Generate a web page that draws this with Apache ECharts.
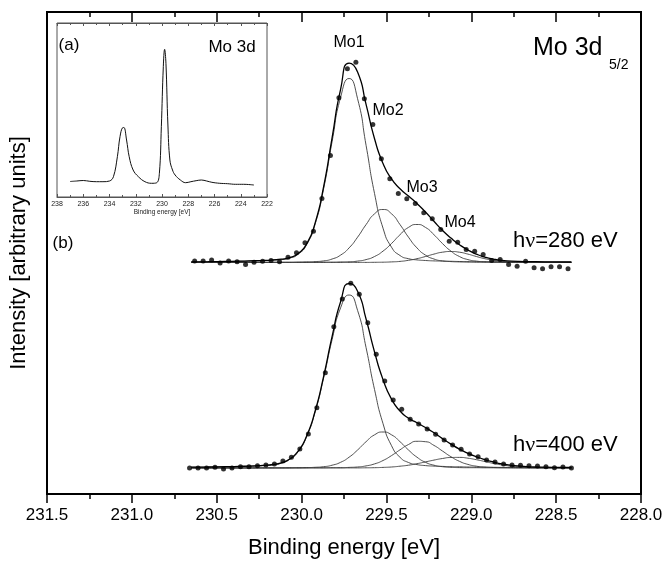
<!DOCTYPE html>
<html>
<head>
<meta charset="utf-8">
<script src="https://cdn.jsdelivr.net/npm/echarts@6/dist/echarts.min.js"></script>
<style>
  html, body { margin: 0; padding: 0; background: #fff; }
  #main { width: 667px; height: 568px; }
</style>
</head>
<body>
<div id="main"></div>
<script>
const energyGrid = [230.65, 230.55, 230.45, 230.37, 230.27, 230.22, 230.17, 230.12, 230.07, 230.02,
  229.97, 229.92, 229.87, 229.82, 229.77, 229.72, 229.67, 229.62, 229.57, 229.52,
  229.47, 229.42, 229.37, 229.32, 229.27, 229.22, 229.17, 229.12, 229.07, 229.02,
  228.97, 228.92, 228.87, 228.82, 228.72, 228.62, 228.52, 228.41];

// hv = 280 eV : fitted components and envelope (arb. units above baseline)
const mo1Top = [0.5, 0.7, 0.9, 1.1, 1.5, 1.8, 2.2, 2.9, 4.4, 8.3, 17.9, 38.5, 73.9, 121.1, 165.2, 184, 163.8, 117.2, 68.9, 34.3, 15.3, 7.0, 3.8, 2.6, 2.0, 1.6, 1.4, 1.2, 1.0, 0.9, 0.8, 0.7, 0.6, 0.5, 0.4, 0.4, 0.3, 0.3];
const mo2Top = [0.1, 0.1, 0.1, 0.2, 0.2, 0.2, 0.3, 0.3, 0.3, 0.4, 0.6, 0.9, 1.6, 3.5, 7.4, 14.6, 25.3, 37.9, 48.7, 53, 48.7, 37.9, 25.3, 14.6, 7.4, 3.5, 1.6, 0.9, 0.6, 0.4, 0.3, 0.3, 0.3, 0.2, 0.2, 0.1, 0.1, 0.1];
const mo3Top = [0.1, 0.1, 0.1, 0.1, 0.1, 0.1, 0.1, 0.1, 0.1, 0.2, 0.2, 0.2, 0.3, 0.3, 0.5, 0.7, 1.4, 2.9, 6.0, 11.4, 19, 27.8, 35.1, 38, 35.1, 27.8, 19, 11.4, 6.0, 2.9, 1.4, 0.7, 0.5, 0.3, 0.2, 0.2, 0.1, 0.1];
const mo4Top = [0, 0, 0, 0, 0, 0, 0, 0, 0, 0, 0, 0, 0.1, 0.1, 0.1, 0.1, 0.1, 0.1, 0.2, 0.3, 0.6, 1.1, 2.2, 3.8, 6.0, 8.4, 10.3, 11, 10.3, 8.4, 6.0, 3.8, 2.2, 1.1, 0.3, 0.1, 0.1, 0];
const envTop = [0.7, 0.8, 1.1, 1.3, 1.8, 2.1, 2.6, 3.3, 4.9, 8.9, 18.7, 39.6, 75.8, 124.9, 173.1, 199.4, 190.6, 158.1, 123.8, 99.0, 83.6, 73.8, 66.4, 59.0, 50.5, 41.2, 32.2, 24.4, 17.8, 12.5, 8.4, 5.4, 3.4, 2.2, 1.1, 0.8, 0.6, 0.5];

// hv = 280 eV : measured points
const dotEnergyTop = [230.63, 230.58, 230.53, 230.48, 230.43, 230.38, 230.33, 230.28, 230.23, 230.18,
  230.13, 230.08, 230.03, 229.98, 229.93, 229.88, 229.83, 229.78, 229.73, 229.68,
  229.63, 229.58, 229.53, 229.48, 229.43, 229.38, 229.33, 229.28, 229.23, 229.18,
  229.13, 229.08, 229.03, 228.98, 228.93, 228.88, 228.83, 228.78, 228.73, 228.68,
  228.63, 228.58, 228.53, 228.48, 228.43];
const dotTop = [1.5, 1.5, 2.5, -0.5, 1.5, 0.7, -2, 0.3, 1.3, 2, 0.7, 5.3, 9.7, 19.7, 31.3, 64, 107, 164.7, 193.7, 200.3,
  163.7, 138, 103.7, 83.7, 69, 63.7, 59, 49.7, 43.7, 33, 21.3, 20.3, 13, 11.3, 8, 2, 3, -2, -3.7, 1.3,
  -5.3, -6.3, -4.3, -4.3, -6.3];

// hv = 400 eV : fitted components and envelope
const mo1Bot = [0.7, 0.9, 1.1, 1.4, 1.9, 2.4, 3.2, 4.8, 8.6, 16.4, 31.5, 56.1, 90.1, 128.5, 160.2, 173, 157.6, 120.4, 78.4, 44.3, 22.3, 10.7, 5.5, 3.4, 2.4, 1.9, 1.6, 1.3, 1.2, 1.0, 0.9, 0.8, 0.7, 0.6, 0.5, 0.4, 0.4, 0.3];
const mo2Bot = [0.1, 0.1, 0.1, 0.1, 0.1, 0.2, 0.2, 0.2, 0.3, 0.3, 0.4, 0.7, 1.3, 2.8, 5.7, 10.8, 18, 26.3, 33.2, 36, 33.2, 26.3, 18, 10.8, 5.7, 2.8, 1.3, 0.7, 0.4, 0.3, 0.3, 0.2, 0.2, 0.2, 0.1, 0.1, 0.1, 0.1];
const mo3Bot = [0, 0, 0.1, 0.1, 0.1, 0.1, 0.1, 0.1, 0.1, 0.1, 0.2, 0.2, 0.2, 0.3, 0.3, 0.6, 1.0, 2.1, 4.1, 7.5, 12.4, 18.2, 23.5, 26.7, 26.3, 22.6, 17.0, 11.3, 6.7, 3.6, 1.8, 0.9, 0.5, 0.3, 0.2, 0.1, 0.1, 0.1];
const mo4Bot = [0, 0, 0, 0, 0, 0, 0, 0, 0, 0.1, 0.1, 0.1, 0.1, 0.1, 0.1, 0.1, 0.1, 0.2, 0.3, 0.6, 1.0, 1.8, 2.8, 4.3, 6.1, 7.9, 9.5, 10.5, 10.6, 9.8, 8.3, 6.5, 4.6, 3.1, 1.1, 0.4, 0.2, 0.1];
const envBot = [0.8, 1.0, 1.3, 1.6, 2.2, 2.7, 3.5, 5.2, 9.0, 16.9, 32.1, 57.0, 91.7, 131.6, 166.3, 184.5, 176.8, 149.0, 116.0, 88.4, 68.9, 57.0, 49.8, 45.2, 40.5, 35.2, 29.4, 23.9, 18.9, 14.7, 11.2, 8.3, 6.0, 4.2, 2.0, 1.0, 0.7, 0.5];

// hv = 400 eV : measured points
const dotEnergyBot = [230.66, 230.61, 230.56, 230.51, 230.46, 230.41, 230.36, 230.31, 230.26, 230.21,
  230.16, 230.11, 230.06, 230.01, 229.96, 229.91, 229.86, 229.81, 229.76, 229.71,
  229.66, 229.61, 229.56, 229.51, 229.46, 229.41, 229.36, 229.31, 229.26, 229.21,
  229.16, 229.11, 229.06, 229.01, 228.96, 228.91, 228.86, 228.81, 228.76, 228.71,
  228.66, 228.61, 228.56, 228.51, 228.46, 228.41];
const dotBot = [0, 0, 0, 0.7, -1, 0, 1.3, 1.3, 2.3, 3, 4, 7, 10.7, 19, 34, 60.3, 95.3, 141.3, 169, 184.7,
  173.7, 145.3, 113.7, 87, 68, 58.7, 48.7, 44, 39, 33.7, 28, 23, 18.7, 14, 11.3, 8, 6, 4, 3, 2.7,
  2.3, 2, 1.3, 0.3, 1, 0];

// vertical offsets of the two spectra (stacked plot)
const offsetTop = 231.5;
const offsetBot = 26;

// inset (a): Mo 3d survey
const insetEnergy = [237.0, 236.5, 236.0, 235.5, 235.0, 234.5, 234.0, 233.7, 233.4, 233.2, 233.0, 232.9, 232.7, 232.5, 232.2,
  231.8, 231.3, 230.8, 230.4, 230.2, 230.05, 229.9, 229.8, 229.7, 229.55, 229.4, 229.2, 229.0, 228.6, 228.2,
  227.8, 227.4, 227.0, 226.6, 226.2, 225.6, 225.0, 224.4, 223.8, 223.0];
const insetIntensity = [15.5, 16, 16.5, 15.7, 15.3, 15.3, 16, 20.3, 40.3, 60.3, 69.3, 69.5, 57, 40.3, 27,
  20.3, 15.3, 13.7, 14.3, 23.7, 70.3, 130.3, 147.7, 133.7, 72, 37, 27, 22, 17, 14.3,
  15.3, 16.3, 17, 16, 14.7, 13.7, 13.3, 12.7, 12.7, 12];

const FONT = "'Liberation Sans', Arial, sans-serif";

function pairs(xs, ys, off) {
  return xs.map((x, i) => [x, ys[i] + off]);
}

function component(name, ys, off) {
  return {
    name: name, type: "line", xAxisIndex: 0, yAxisIndex: 0,
    data: pairs(energyGrid, ys, off),
    symbol: "none", smooth: 0.6, silent: true,
    lineStyle: { color: "#3a3a3a", width: 0.9 },
  };
}
function envelope(ys, off) {
  return {
    type: "line", xAxisIndex: 0, yAxisIndex: 0,
    data: pairs(energyGrid, ys, off),
    symbol: "none", smooth: 0.6, silent: true,
    lineStyle: { color: "#000", width: 1.3 }, z: 3,
  };
}
function dots(xs, ys, off) {
  return {
    type: "scatter", xAxisIndex: 0, yAxisIndex: 0,
    data: pairs(xs, ys, off),
    symbol: "circle", symbolSize: 5, silent: true,
    itemStyle: { color: "#000" }, z: 4,
  };
}

function label(text, x, y, size, align) {
  return {
    type: "text", x: x, y: y, silent: true, z: 100,
    style: {
      text: text, fill: "#000", fontSize: size, fontFamily: FONT,
      align: align || "center", textAlign: align || "center",
      verticalAlign: "middle", textVerticalAlign: "middle",
    },
  };
}
function hnu(value, x, y) {
  return {
    type: "text", x: x, y: y, silent: true, z: 100,
    style: {
      text: "{a|h}{b|ν}{a|=" + value + " eV}",
      align: "left", textAlign: "left",
      verticalAlign: "middle", textVerticalAlign: "middle",
      rich: {
        a: { fontSize: 22, fontFamily: FONT, fill: "#000" },
        b: { fontSize: 22, fontFamily: "'Liberation Serif', serif", fill: "#000" },
      },
    },
  };
}

const chart = echarts.init(document.getElementById("main"));

const tickLine = { color: "#000", width: 1.5 };

chart.setOption({
  animation: false,
  backgroundColor: "#fff",
  grid: [
    { left: 45, top: 12, right: 26, bottom: 74, show: true, borderColor: "#000", borderWidth: 2, backgroundColor: "transparent" },
    { left: 57, top: 23, width: 210, height: 174, show: true, borderColor: "#555", borderWidth: 1, backgroundColor: "#fff", z: 10 },
  ],
  xAxis: [
    {
      gridIndex: 0, type: "value", position: "bottom", min: 228, max: 231.5, interval: 0.5, inverse: true,
      axisLine: { show: true, onZero: false, lineStyle: { color: "#000", width: 2 } },
      axisTick: { show: true, inside: false, length: 9, lineStyle: tickLine },
      minorTick: { show: true, splitNumber: 2, length: 5, lineStyle: tickLine },
      splitLine: { show: false },
      axisLabel: { color: "#000", fontSize: 17, fontFamily: FONT, margin: 13, formatter: (v) => v.toFixed(1) },
      name: "Binding energy [eV]", nameLocation: "middle", nameGap: 43,
      nameTextStyle: { color: "#000", fontSize: 22, fontFamily: FONT },
    },
    {
      gridIndex: 0, type: "value", position: "top", min: 228, max: 231.5, interval: 0.5, inverse: true,
      axisLine: { show: true, onZero: false, lineStyle: { color: "#000", width: 2 } },
      axisTick: { show: true, inside: true, length: 10, lineStyle: tickLine },
      minorTick: { show: true, splitNumber: 2, length: 5, lineStyle: tickLine },
      splitLine: { show: false },
      axisLabel: { show: false },
    },
    {
      gridIndex: 1, type: "value", position: "bottom", min: 222, max: 238, interval: 2, inverse: true,
      axisLine: { show: true, onZero: false, lineStyle: { color: "#555", width: 1 } },
      axisTick: { show: true, inside: true, length: 3, lineStyle: { color: "#555", width: 1 } },
      minorTick: { show: true, splitNumber: 2, length: 2, lineStyle: { color: "#555", width: 1 } },
      splitLine: { show: false },
      axisLabel: { color: "#222", fontSize: 7, fontFamily: FONT, margin: 4 },
      name: "Binding energy [eV]", nameLocation: "middle", nameGap: 12,
      nameTextStyle: { color: "#222", fontSize: 6.5, fontFamily: FONT },
      z: 11,
    },
    {
      gridIndex: 1, type: "value", position: "top", min: 222, max: 238, interval: 2, inverse: true,
      axisLine: { show: true, onZero: false, lineStyle: { color: "#555", width: 1 } },
      axisTick: { show: true, inside: true, length: 3, lineStyle: { color: "#555", width: 1 } },
      minorTick: { show: true, splitNumber: 2, length: 2, lineStyle: { color: "#555", width: 1 } },
      splitLine: { show: false },
      axisLabel: { show: false },
      z: 11,
    },
  ],
  yAxis: [
    {
      gridIndex: 0, type: "value", min: 0, max: 482,
      axisLine: { show: false }, axisTick: { show: false }, axisLabel: { show: false }, splitLine: { show: false },
      name: "Intensity [arbitrary units]", nameLocation: "middle", nameGap: 17,
      nameTextStyle: { color: "#000", fontSize: 22, fontFamily: FONT },
    },
    {
      gridIndex: 1, type: "value", min: 0, max: 174,
      axisLine: { show: false }, axisTick: { show: false }, axisLabel: { show: false }, splitLine: { show: false },
    },
  ],
  series: [
    component("Mo1", mo1Top, offsetTop),
    component("Mo2", mo2Top, offsetTop),
    component("Mo3", mo3Top, offsetTop),
    component("Mo4", mo4Top, offsetTop),
    envelope(envTop, offsetTop),
    dots(dotEnergyTop, dotTop, offsetTop),
    component("Mo1", mo1Bot, offsetBot),
    component("Mo2", mo2Bot, offsetBot),
    component("Mo3", mo3Bot, offsetBot),
    component("Mo4", mo4Bot, offsetBot),
    envelope(envBot, offsetBot),
    dots(dotEnergyBot, dotBot, offsetBot),
    {
      type: "line", xAxisIndex: 2, yAxisIndex: 1, z: 12,
      data: pairs(insetEnergy, insetIntensity, 0),
      symbol: "none", smooth: 0.4, silent: true,
      lineStyle: { color: "#111", width: 1 },
    },
  ],
  graphic: [
    label("Mo1", 349, 43, 16),
    label("Mo2", 388, 111, 16),
    label("Mo3", 422, 188, 16),
    label("Mo4", 460, 223, 16),
    hnu("280", 513, 241),
    hnu("400", 513, 445),
    label("Mo 3d", 533, 48, 25, "left"),
    label("5/2", 609, 65, 14, "left"),
    label("(b)", 63, 243, 17),
    label("(a)", 69, 45, 17),
    label("Mo 3d", 232, 47, 17),
  ],
});
</script>
</body>
</html>
